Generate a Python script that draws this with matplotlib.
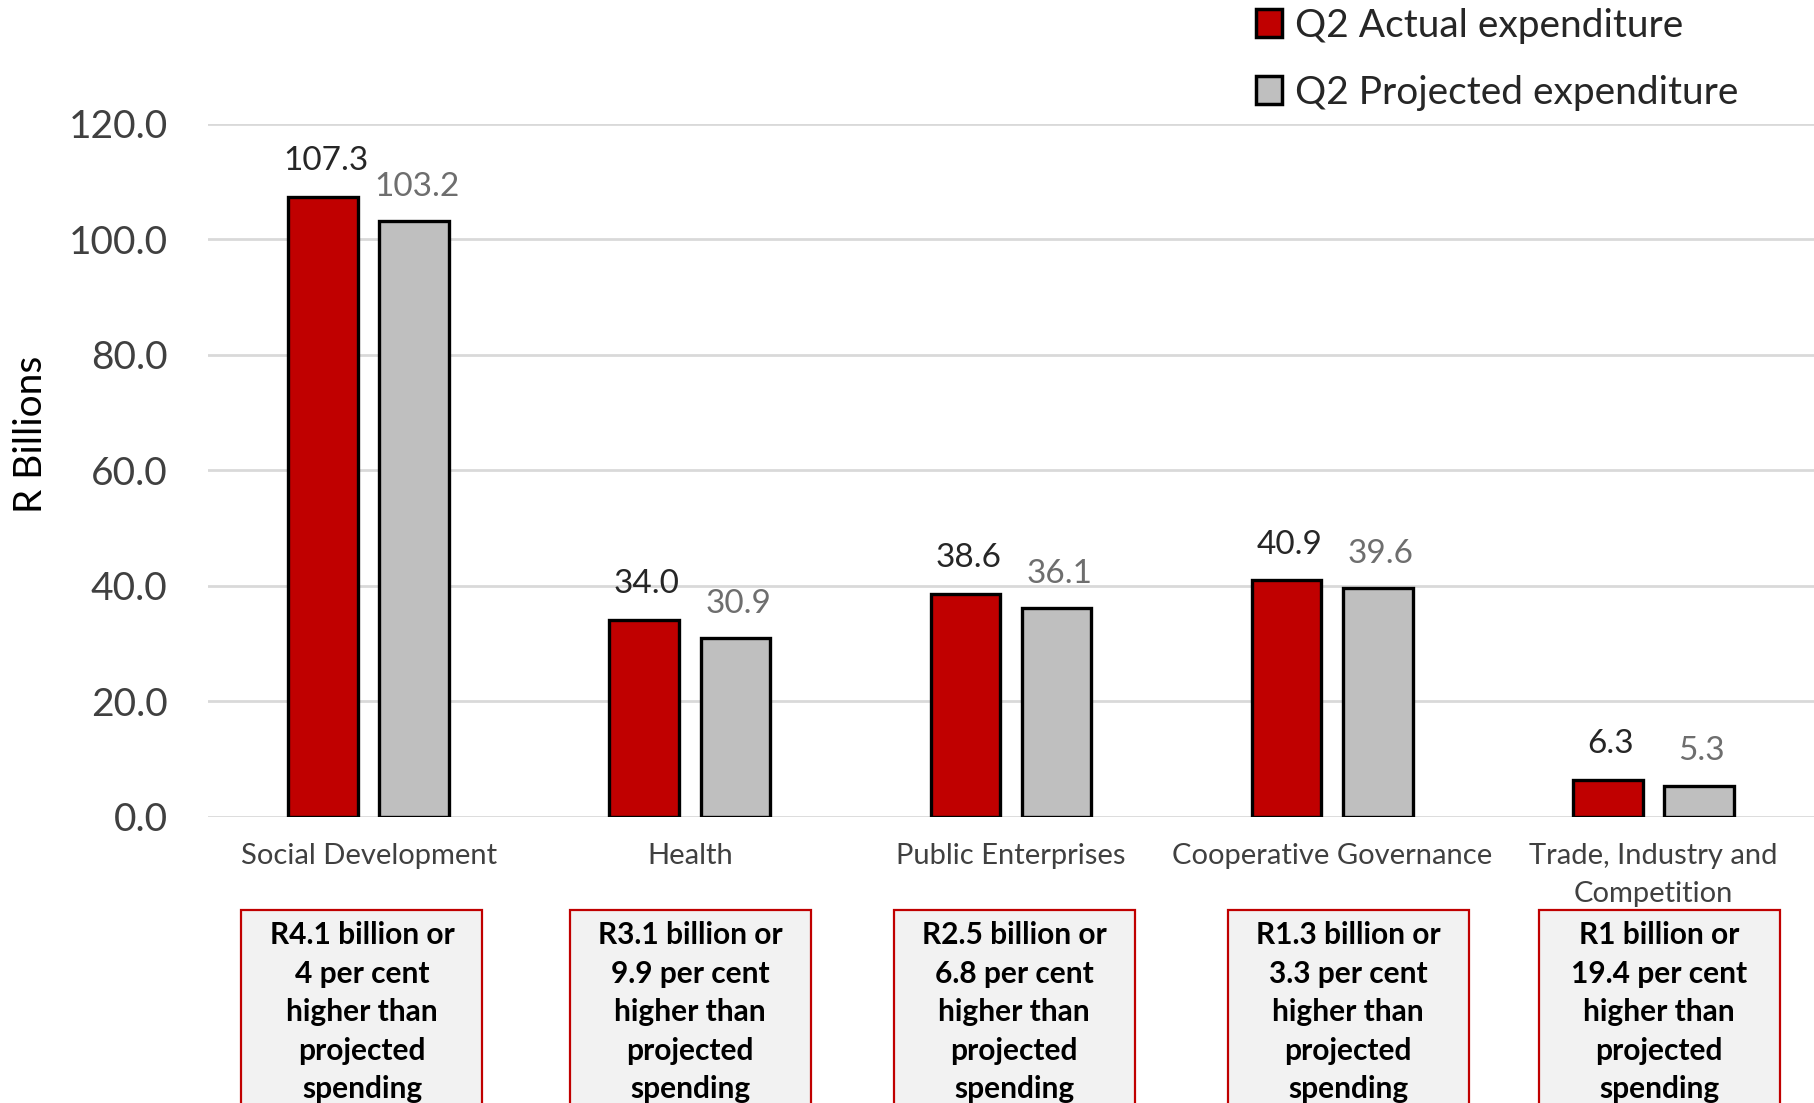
import matplotlib
matplotlib.use("Agg")
import matplotlib.pyplot as plt
import numpy as np
from matplotlib.patches import Patch, Rectangle

# ---------------- data ----------------
categories = ["Social Development", "Health", "Public Enterprises",
              "Cooperative Governance", "Trade, Industry and\nCompetition"]
actual = [107.3, 34.0, 38.6, 40.9, 6.3]
projected = [103.2, 30.9, 36.1, 39.6, 5.3]
y_ticks = [0, 20, 40, 60, 80, 100, 120]
series_names = ["Q2 Actual expenditure", "Q2 Projected expenditure"]
y_label = "R Billions"
notes = [
    "R4.1 billion or\n4 per cent\nhigher than\nprojected\nspending",
    "R3.1 billion or\n9.9 per cent\nhigher than\nprojected\nspending",
    "R2.5 billion or\n6.8 per cent\nhigher than\nprojected\nspending",
    "R1.3 billion or\n3.3 per cent\nhigher than\nprojected\nspending",
    "R1 billion or\n19.4 per cent\nhigher than\nprojected\nspending",
]

# ---------------- layout / style ----------------
RED = "#C00000"
GREY = "#BFBFBF"
TXT = "#404040"
W, H = 1814, 1103
box_centers_px = [362, 690, 1014, 1348, 1659]
box_w_px = 241
box_top_px = 910

plt.rcParams['font.family'] = ['Lato', 'DejaVu Sans']

fig = plt.figure(figsize=(W / 100, H / 100), dpi=100)
ax = fig.add_axes([208 / W, 1 - 816.5 / H, 1606 / W, (816.5 - 124) / H])

x = np.arange(len(categories))
off, bw = 0.142, 0.217
ax.bar(x - off, actual, width=bw, color=RED, edgecolor="black",
       linewidth=2.4, zorder=3)
ax.bar(x + off, projected, width=bw, color=GREY, edgecolor="black",
       linewidth=2.4, zorder=3)

for xi, v in zip(x - off, actual):
    ax.annotate(f"{v:.1f}", (xi, v), xytext=(2, 15), textcoords="offset points",
                ha="center", va="bottom", fontsize=24, color="#262626")
for xi, v in zip(x + off, projected):
    ax.annotate(f"{v:.1f}", (xi, v), xytext=(2, 14), textcoords="offset points",
                ha="center", va="bottom", fontsize=24, color="#6E6E6E")

ax.set_xlim(-0.5, len(categories) - 0.5)
ax.set_ylim(0, 120)
ax.set_yticks(y_ticks)
ax.set_yticklabels([f"{t:.1f}" for t in y_ticks])
ax.set_xticks(x)
ax.set_xticklabels(categories, linespacing=1.6)
ax.tick_params(axis="y", length=0, pad=29, labelsize=28, labelcolor=TXT)
ax.tick_params(axis="x", length=0, pad=19, labelsize=21, labelcolor=TXT)
ax.grid(axis="y", color="#D9D9D9", linewidth=2, zorder=0)
ax.set_axisbelow(True)
for s in ax.spines.values():
    s.set_visible(False)

fig.text(31 / W, 1 - 434 / H, y_label, rotation=90, ha="center", va="center",
         fontsize=28, color="black")

handles = [Patch(facecolor=RED, edgecolor="black", linewidth=2.5),
           Patch(facecolor=GREY, edgecolor="black", linewidth=2.5)]
fig.legend(handles, series_names, loc="upper left",
           bbox_to_anchor=(1256 / W, 0.993), frameon=False, fontsize=28,
           handlelength=0.68, handleheight=0.72, handletextpad=0.33,
           labelspacing=0.8, borderpad=0.0, borderaxespad=0.0,
           labelcolor="#262626")

for cx, note in zip(box_centers_px, notes):
    rect = Rectangle(((cx - box_w_px / 2) / W, -0.05), box_w_px / W,
                     1 - box_top_px / H + 0.05, transform=fig.transFigure,
                     facecolor="#F2F2F2", edgecolor=RED, linewidth=1.6,
                     clip_on=False)
    fig.add_artist(rect)
    fig.text(cx / W, 1 - 921 / H, note, ha="center", va="top", fontsize=21.5,
             fontweight="bold", color="black", linespacing=1.46)

fig.savefig("out.png", dpi=100)
